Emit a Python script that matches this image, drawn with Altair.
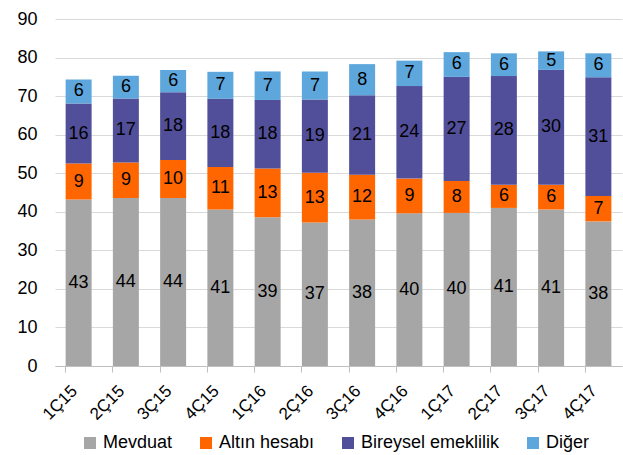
import altair as alt
import pandas as pd

quarters = ["1Ç15", "2Ç15", "3Ç15", "4Ç15", "1Ç16", "2Ç16", "3Ç16", "4Ç16", "1Ç17", "2Ç17", "3Ç17", "4Ç17"]
series_names = ["Mevduat", "Altın hesabı", "Bireysel emeklilik", "Diğer"]
mevduat = [43.2, 43.6, 43.6, 40.6, 38.6, 37.2, 38.0, 39.6, 39.7, 41.0, 40.6, 37.5]
altin = [9.3, 9.2, 9.8, 11.0, 12.6, 12.9, 11.6, 9.0, 8.3, 6.0, 6.4, 6.6]
bireysel = [15.6, 16.6, 17.6, 17.7, 17.8, 19.0, 20.6, 24.0, 27.0, 28.2, 29.8, 30.8]
diger = [6.2, 5.9, 5.8, 7.0, 7.4, 7.3, 8.1, 6.6, 6.4, 5.9, 4.8, 6.2]
colors = ["#A6A6A6", "#FF6600", "#524F9A", "#5EA7DC"]
y_ticks = [0, 10, 20, 30, 40, 50, 60, 70, 80, 90]

rows = []
for idx, (name, vals) in enumerate(zip(series_names, [mevduat, altin, bireysel, diger])):
    for q, v in zip(quarters, vals):
        rows.append({"q": q, "series": name, "value": v, "idx": idx})
df = pd.DataFrame(rows)

FONT = "Liberation Sans"

base = alt.Chart(df).transform_stack(
    stack="value", groupby=["q"], as_=["y0", "y1"], sort=[alt.SortField("idx", order="ascending")]
).transform_calculate(mid="(datum.y0 + datum.y1) / 2")

x_scale = alt.Scale(paddingInner=0.45, paddingOuter=0.225)
y_scale = alt.Scale(domain=[0, 90], nice=False)

bars = base.mark_bar().encode(
    x=alt.X(
        "q:N",
        sort=quarters,
        scale=x_scale,
        axis=alt.Axis(
            title=None,
            labelAngle=-45,
            labelAlign="right",
            labelBaseline="middle",
            labelFont=FONT,
            labelFontSize=17,
            labelColor="#000000",
            labelPadding=16,
            labelOffset=-4,
            domainColor="#BFBFBF",
            tickColor="#BFBFBF",
            tickSize=6,
            bandPosition=0,
            grid=False,
        ),
    ),
    y=alt.Y(
        "y0:Q",
        scale=y_scale,
        axis=alt.Axis(
            title=None,
            values=y_ticks,
            labelFont=FONT,
            labelFontSize=18,
            labelColor="#000000",
            labelPadding=18,
            labelOverlap=False,
            ticks=False,
            domain=False,
            grid=True,
            gridColor="#D9D9D9",
            gridWidth=1,
        ),
    ),
    y2="y1:Q",
    color=alt.Color(
        "series:N",
        scale=alt.Scale(domain=series_names, range=colors),
        sort=series_names,
        legend=alt.Legend(
            title=None,
            orient="none",
            legendX=26,
            legendY=415,
            direction="horizontal",
            columns=4,
            symbolType="square",
            symbolSize=144,
            symbolStrokeWidth=0,
            labelFont=FONT,
            labelFontSize=18,
            labelColor="#000000",
            labelOffset=4,
            columnPadding=24,
        ),
    ),
)

labels = base.mark_text(font=FONT, fontSize=18, color="#000000", baseline="middle", align="center").encode(
    x=alt.X("q:N", sort=quarters, scale=x_scale, axis=None),
    y=alt.Y("mid:Q", scale=y_scale, axis=None),
    text=alt.Text("value:Q", format=".0f"),
)

chart = alt.layer(bars, labels).resolve_axis(x="independent", y="independent").properties(
    width=567,
    height=347,
    background="white",
    autosize=alt.AutoSizeParams(type="none"),
    padding={"left": 55, "top": 19, "right": 1, "bottom": 89},
).configure_view(stroke=None)

chart.save("out.html", embed_options={"renderer": "svg", "actions": False})
